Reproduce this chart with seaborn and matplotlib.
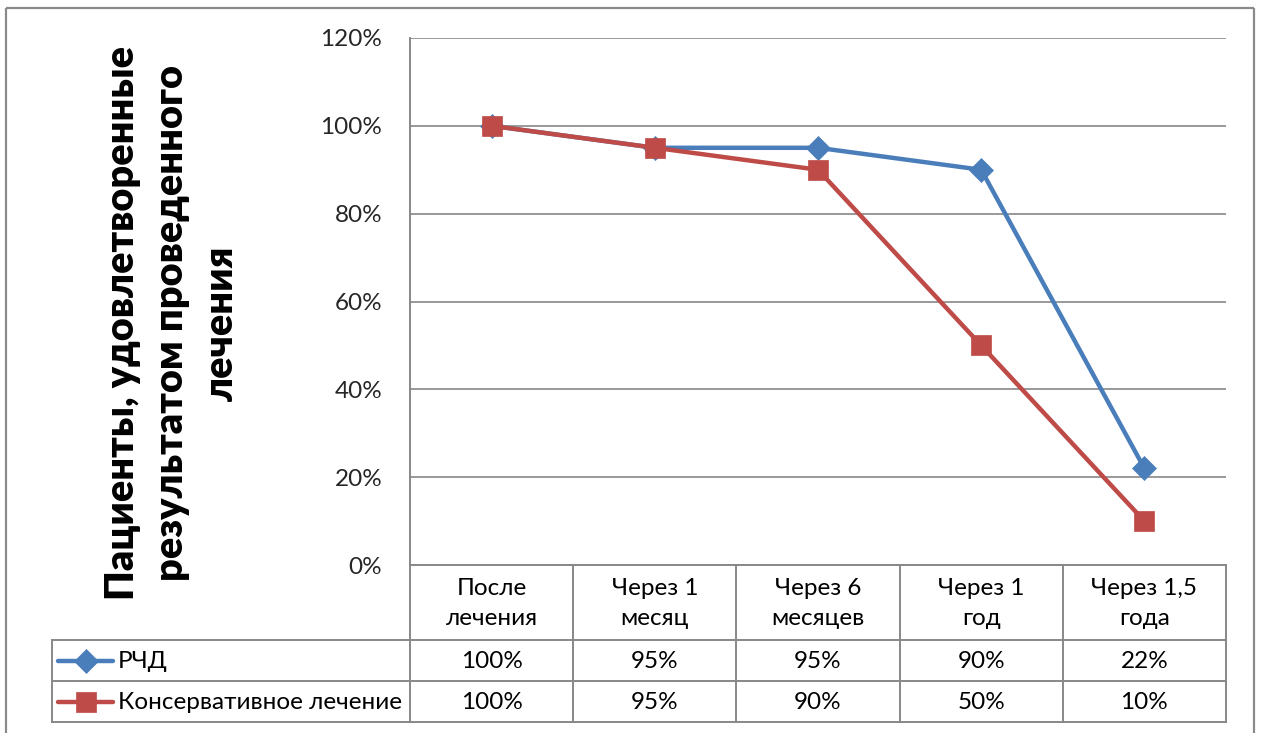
import matplotlib
matplotlib.use("Agg")
import matplotlib.pyplot as plt
import matplotlib.transforms as mtrans
import pandas as pd
import seaborn as sns

# Survey data: share of patients satisfied with treatment over time
categories = ["После\nлечения", "Через 1\nмесяц", "Через 6\nмесяцев", "Через 1\nгод", "Через 1,5\nгода"]
series_names = ["РЧД", "Консервативное лечение"]
rchd = [100, 95, 95, 90, 22]
conservative = [100, 95, 90, 50, 10]
y_ticks = [0, 20, 40, 60, 80, 100, 120]
y_title = "Пациенты, удовлетворенные\nрезультатом проведенного\nлечения"

colors = ["#4A7EBB", "#BE4B48"]
markers = ["D", "s"]
marker_sizes = [12, 14]
grey = "#888888"
fs = 17.5

sns.set_theme(style="white")
plt.rcParams["font.family"] = ["Lato", "DejaVu Sans"]

W, H = 1262, 733
fig = plt.figure(figsize=(W / 100, H / 100), dpi=100)

# Full-figure canvas in pixel units for the frame and the data table
bg = fig.add_axes([0, 0, 1, 1])
bg.set_xlim(0, W)
bg.set_ylim(H, 0)
bg.axis("off")

L, R, T, B = 410, 1226, 38, 565
ax = fig.add_axes([L / W, 1 - B / H, (R - L) / W, (B - T) / H])
ax.set_zorder(2)
ax.patch.set_alpha(0)

xs = list(range(len(categories)))
for name, vals, c, m, ms in zip(series_names, [rchd, conservative], colors, markers, marker_sizes):
    df = pd.DataFrame({"x": xs, "y": vals})
    sns.lineplot(data=df, x="x", y="y", ax=ax, color=c, lw=3.2, marker=m,
                 markersize=ms, markeredgecolor=c, markeredgewidth=0.5, zorder=3)

ax.set_xlim(-0.5, len(categories) - 0.5)
ax.set_ylim(0, 120)
ax.set_yticks(y_ticks)
ax.set_yticklabels([f"{v}%" for v in y_ticks], fontsize=fs)
ax.set_xticks([])
ax.set_xlabel("")
ax.set_ylabel("")
ax.tick_params(axis="y", length=0, pad=20)
ax.yaxis.grid(True, color=grey, lw=1.2)
for s in ["top", "right"]:
    ax.spines[s].set_visible(False)
for s in ["left", "bottom"]:
    ax.spines[s].set_color(grey)
    ax.spines[s].set_linewidth(1.4)

# Outer chart frame
fk = dict(color="#8a8a8a", lw=1.6, solid_capstyle="butt")
bg.plot([6, 6], [8, H], **fk)
bg.plot([6, 1254], [8, 8], **fk)
bg.plot([1254, 1254], [8, H], **fk)

# Data table below the plot
tk = dict(color=grey, lw=1.4, solid_capstyle="projecting")
row_top, row1, row2, row_bot = 565, 640, 681, 722
leg_left = 52
bg.plot([L, L], [row_top, row_bot], **tk)
for y in [row1, row2, row_bot]:
    bg.plot([leg_left, R], [y, y], **tk)
bg.plot([leg_left, leg_left], [row1, row_bot], **tk)

blend = mtrans.blended_transform_factory(ax.transData, bg.transData)
for i in range(1, len(categories) + 1):
    bg.plot([i - 0.5, i - 0.5], [row_top, row_bot], transform=blend, **tk)

for i, cat in enumerate(categories):
    bg.text(i, (row_top + row1) / 2 + 1, cat, transform=blend, ha="center", va="center",
            fontsize=fs, linespacing=1.5, color="black")
    bg.text(i, (row1 + row2) / 2 + 1, f"{rchd[i]}%", transform=blend, ha="center",
            va="center", fontsize=fs, color="black")
    bg.text(i, (row2 + row_bot) / 2 + 1, f"{conservative[i]}%", transform=blend, ha="center",
            va="center", fontsize=fs, color="black")

# Legend keys inside the table
for (y0, y1), name, c, m, ms in zip([(row1, row2), (row2, row_bot)], series_names, colors,
                                    markers, marker_sizes):
    yc = (y0 + y1) / 2
    bg.plot([58, 113], [yc, yc], color=c, lw=3.2, solid_capstyle="round")
    bg.plot([86], [yc], marker=m, ms=ms, color=c, markeredgecolor=c, markeredgewidth=0.5)
    bg.text(118, yc + 1, name, ha="left", va="center", fontsize=fs, color="black")

# Vertical axis title
fig.text(172 / W, 1 - 323 / H, y_title, rotation=90, ha="center", va="center",
         multialignment="center", fontsize=28.5, fontweight="heavy", linespacing=1.42,
         color="black")

fig.savefig("out.png", dpi=100)
